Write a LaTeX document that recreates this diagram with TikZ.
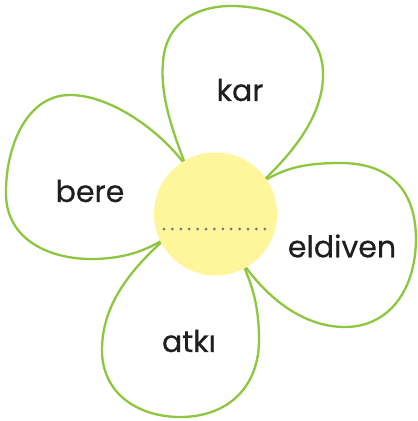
\documentclass[tikz,border=0pt]{standalone}
\usepackage{fontspec}
\setmainfont{Poppins}
\newfontfamily\wordfont{Poppins}[FakeBold=0.5]
\usepackage{tikz}
\usetikzlibrary{positioning,calc}
\definecolor{leafgreen}{RGB}{141,198,63}
\definecolor{budyellow}{RGB}{255,245,154}
\definecolor{dotgray}{RGB}{115,115,125}

\begin{document}
\begin{tikzpicture}[x=1pt,y=-1pt,
petal/.style={draw=leafgreen,line width=2.3pt,fill=white,line join=round},
bud/.style={circle,fill=budyellow,minimum size=123pt,inner sep=0pt},
word/.style={font=\wordfont\fontsize{30}{30}\selectfont,text=black!88}]
\useasboundingbox (0,0) rectangle (418,421);
% petals
\draw[petal] (186,166) .. controls (172,130) and (160,95) .. (163,62)
  .. controls (166,20) and (200,5) .. (235,6)
  .. controls (290,8) and (325,35) .. (323,78)
  .. controls (321,120) and (290,155) .. (262,182);
\draw[petal] (186,166) .. controls (160,130) and (110,95) .. (70,95)
  .. controls (25,95) and (5,150) .. (6,195)
  .. controls (7,240) and (50,260) .. (95,259)
  .. controls (130,258) and (150,248) .. (166,238);
\draw[petal] (262,182) .. controls (285,168) and (305,163) .. (340,163)
  .. controls (395,163) and (416,195) .. (416,240)
  .. controls (415,295) and (385,328) .. (343,327)
  .. controls (300,326) and (265,295) .. (242,262);
\draw[petal] (166,238) .. controls (130,270) and (102,305) .. (102,350)
  .. controls (102,395) and (140,417) .. (180,417)
  .. controls (230,417) and (259,385) .. (259,340)
  .. controls (259,305) and (252,285) .. (242,262);
% centre
\node[bud](c) at (215.5,214){};
\coordinate (l1) at (164,229);
\coordinate (l2) at (265,229);
\draw[dotgray,line width=3pt,line cap=round,dash pattern=on 0pt off 8.4pt](l1)--(l2);
% words
\node[word](kar) at (240,90){kar};
\node[word](bere) at (90,191){bere};
\node[word](eldiven) at (342,246){eldiven};
\node[word](atki) at (189,341){atkı};
\end{tikzpicture}
\end{document}
